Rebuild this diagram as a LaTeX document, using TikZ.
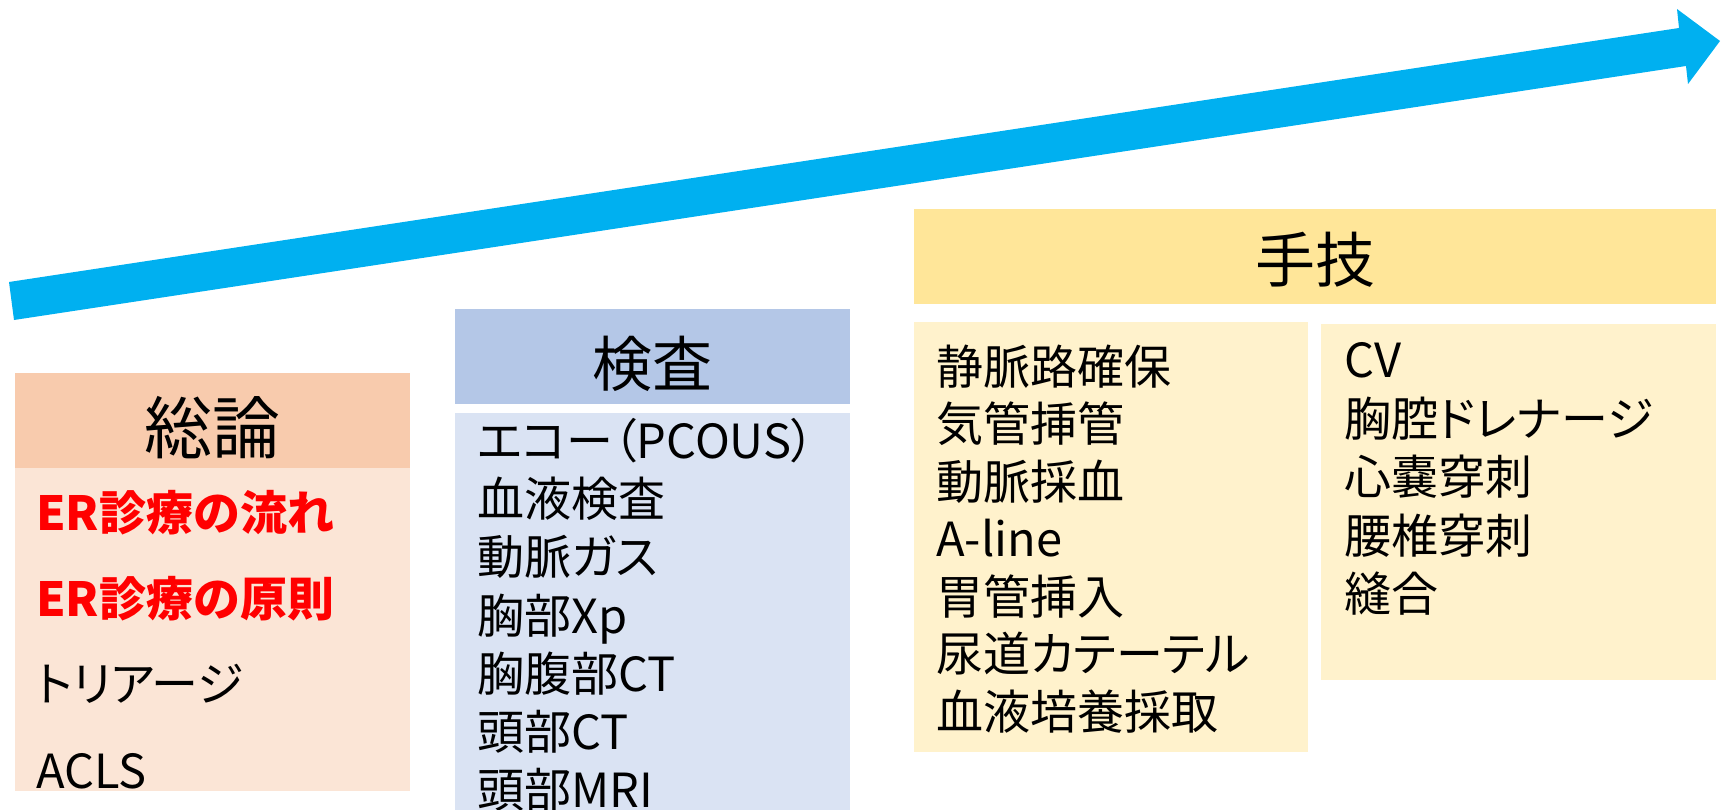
\documentclass[tikz,border=0pt]{standalone}
\usepackage{fontspec}
\setmainfont{Noto Sans CJK JP}
\definecolor{arrowblue}{HTML}{00B0F0}
\definecolor{sohead}{HTML}{F8CBAD}
\definecolor{sobody}{HTML}{FBE5D6}
\definecolor{kehead}{HTML}{B4C7E7}
\definecolor{kebody}{HTML}{DAE3F3}
\definecolor{shhead}{HTML}{FFE699}
\definecolor{shbody}{HTML}{FFF2CC}
\definecolor{redtext}{HTML}{FF0000}
\begin{document}
\begin{tikzpicture}[x=1pt,y=-1pt,
  panel/.style={draw=none, inner sep=0pt, anchor=north west},
  item/.style={anchor=base west, inner sep=0pt, font=\fontsize{47}{47}\selectfont},
  kana/.style={item, font=\fontsize{47}{47}\selectfont\addfontfeatures{RawFeature=+palt}},
  hot/.style={item, text=redtext, font=\fontsize{47}{47}\selectfont\bfseries},
  title/.style={anchor=base, inner sep=0pt}]
\useasboundingbox (0,0) rectangle (1723,810);
% arrow
\fill[arrowblue] (9,282) -- (1679,28) -- (1677,9) -- (1720,41) -- (1688,84) -- (1686,66) -- (14,320) -- cycle;
% panels
\node[panel, fill=sohead, minimum width=395pt, minimum height=95pt] (soh) at (15,373) {};
\node[panel, fill=sobody, minimum width=395pt, minimum height=323pt] (sob) at (15,468) {};
\node[panel, fill=kehead, minimum width=395pt, minimum height=95pt] (keh) at (455,309) {};
\node[panel, fill=kebody, minimum width=395pt, minimum height=397pt] (keb) at (455,413) {};
\node[panel, fill=shhead, minimum width=802pt, minimum height=95pt] (shh) at (914,209) {};
\node[panel, fill=shbody, minimum width=394pt, minimum height=430pt] (shl) at (914,322) {};
\node[panel, fill=shbody, minimum width=395pt, minimum height=356pt] (shr) at (1321,324) {};
% titles
\node[title, font=\fontsize{68}{68}\selectfont] (t1) at (212.5,453) {総論};
\node[title, font=\fontsize{60}{60}\selectfont] (t2) at (652.5,386) {検査};
\node[title, font=\fontsize{60}{60}\selectfont] (t3) at (1315,283) {手技};
% 総論 items
\node[hot] (s1) at (36,530) {ER診療の流れ};
\node[hot] (s2) at (36,616) {ER診療の原則};
\node[kana] (s3) at (36,701) {トリアージ};
\node[item] (s4) at (36,788) {ACLS};
% 検査 items
\node[kana] (k1) at (477,458) {エコー（PCOUS）};
\node[item] (k2) at (477,516) {血液検査};
\node[kana] (k3) at (477,574) {動脈ガス};
\node[item] (k4) at (477,633) {胸部Xp};
\node[item] (k5) at (477,691) {胸腹部CT};
\node[item] (k6) at (477,749) {頭部CT};
\node[item] (k7) at (477,807) {頭部MRI};
% 手技 left
\node[item] (a1) at (936,384) {静脈路確保};
\node[item] (a2) at (936,441) {気管挿管};
\node[item] (a3) at (936,499) {動脈採血};
\node[item] (a4) at (936,556) {A-line};
\node[item] (a5) at (936,614) {胃管挿入};
\node[kana] (a6) at (936,671) {尿道カテーテル};
\node[item] (a7) at (936,729) {血液培養採取};
% 手技 right
\node[item] (b1) at (1344,377) {CV};
\node[kana] (b2) at (1344,436) {胸腔ドレナージ};
\node[item] (b3) at (1344,494) {心嚢穿刺};
\node[item] (b4) at (1344,553) {腰椎穿刺};
\node[item] (b5) at (1344,611) {縫合};
\end{tikzpicture}
\end{document}
